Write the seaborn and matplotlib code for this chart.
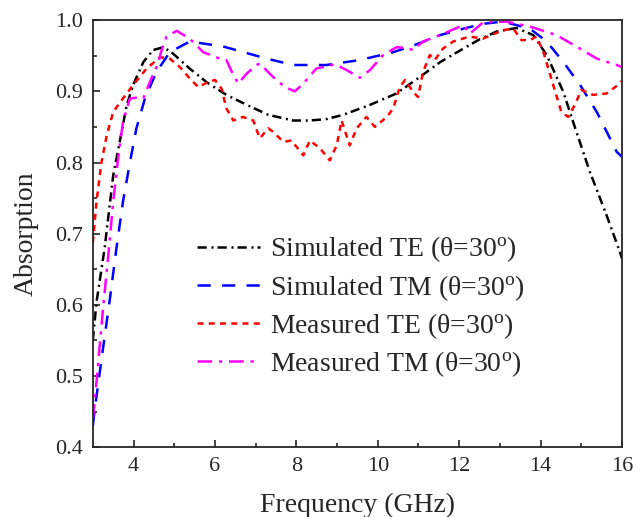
import matplotlib
matplotlib.use("Agg")
import matplotlib.pyplot as plt
import seaborn as sns
import pandas as pd

# ---------------- data ----------------
sim_te_f = [3.0, 3.09, 3.29, 3.5, 3.66, 3.83, 3.99, 4.24, 4.48, 4.73, 4.93, 5.38, 5.79, 6.28,
            6.78, 7.31, 7.92, 8.33, 8.74, 9.15, 9.81, 10.46, 11.03, 11.53, 12.1, 12.5, 12.92,
            13.41, 13.82, 14.15, 14.56, 14.88, 15.21, 15.62, 15.95, 16.0]
sim_te_a = [0.55, 0.604, 0.68, 0.782, 0.829, 0.88, 0.909, 0.941, 0.958, 0.962, 0.955, 0.932, 0.913,
            0.895, 0.881, 0.867, 0.859, 0.859, 0.861, 0.867, 0.881, 0.897, 0.920, 0.941, 0.960, 0.973,
            0.984, 0.989, 0.979, 0.951, 0.899, 0.843, 0.787, 0.726, 0.674, 0.665]

sim_tm_f = [3.0, 3.05, 3.25, 3.42, 3.58, 3.74, 3.91, 4.07, 4.28, 4.56, 4.89, 5.38, 6.2, 7.27,
            7.92, 8.74, 9.56, 10.38, 11.0, 11.53, 12.1, 12.6, 13.08, 13.74, 14.15, 14.56, 14.97,
            15.38, 15.87, 16.0]
sim_tm_a = [0.43, 0.455, 0.539, 0.609, 0.68, 0.745, 0.80, 0.848, 0.89, 0.927, 0.955, 0.97, 0.963,
            0.946, 0.937, 0.937, 0.944, 0.955, 0.967, 0.979, 0.988, 0.995, 0.998, 0.988, 0.97,
            0.941, 0.909, 0.871, 0.815, 0.808]

mea_te_f = [3.0, 3.09, 3.21, 3.34, 3.5, 3.74, 3.99, 4.32, 4.65, 4.89, 5.14, 5.38, 5.59, 5.83, 6.0,
            6.16, 6.28, 6.45, 6.69, 6.94, 7.1, 7.31, 7.43, 7.68, 7.88, 8.17, 8.33, 8.58, 8.82, 8.99,
            9.11, 9.23, 9.31, 9.48, 9.72, 9.93, 10.22, 10.38, 10.54, 10.67, 10.87, 10.99, 11.11,
            11.28, 11.4, 11.6, 11.85, 12.26, 12.58, 13.08, 13.33, 13.53, 13.74, 13.9, 14.07, 14.31,
            14.51, 14.68, 14.84, 15.0, 15.29, 15.62, 15.95, 16.0]
mea_te_a = [0.688, 0.745, 0.80, 0.838, 0.871, 0.89, 0.909, 0.932, 0.948, 0.946, 0.934, 0.918, 0.906,
            0.913, 0.916, 0.904, 0.876, 0.859, 0.864, 0.859, 0.834, 0.848, 0.843, 0.829, 0.831,
            0.81, 0.831, 0.82, 0.803, 0.824, 0.859, 0.838, 0.824, 0.848, 0.864, 0.85, 0.864, 0.876,
            0.906, 0.916, 0.899, 0.892, 0.927, 0.951, 0.944, 0.96, 0.97, 0.977, 0.974, 0.986, 0.988,
            0.972, 0.972, 0.977, 0.955, 0.909, 0.871, 0.864, 0.881, 0.902, 0.895, 0.897, 0.911, 0.915]

mea_tm_f = [3.0, 3.09, 3.25, 3.38, 3.5, 3.62, 3.74, 3.91, 4.07, 4.24, 4.4, 4.6, 4.69, 4.81, 5.06,
            5.38, 5.71, 6.12, 6.28, 6.45, 6.57, 6.78, 7.02, 7.1, 7.43, 7.72, 7.96, 8.17, 8.49, 8.95,
            9.23, 9.56, 9.81, 10.13, 10.46, 10.7, 10.87, 11.11, 11.53, 12.1, 12.26, 12.59, 13.16,
            13.74, 14.39, 14.88, 15.38, 15.87, 16.0]
mea_tm_a = [0.44, 0.492, 0.595, 0.67, 0.745, 0.806, 0.857, 0.89, 0.891, 0.89, 0.913, 0.939, 0.958,
            0.977, 0.985, 0.974, 0.955, 0.946, 0.944, 0.923, 0.911, 0.925, 0.937, 0.939, 0.92,
            0.906, 0.90, 0.911, 0.932, 0.938, 0.93, 0.919, 0.93, 0.951, 0.962, 0.961, 0.958, 0.97,
            0.979, 0.993, 0.981, 0.997, 0.998, 0.991, 0.979, 0.963, 0.946, 0.937, 0.934]

labels = ["Simulated TE ($\\theta$=30$^{\\mathrm{o}}$)",
          "Simulated TM ($\\theta$=30$^{\\mathrm{o}}$)",
          "Measured TE ($\\theta$=30$^{\\mathrm{o}}$)",
          "Measured TM ($\\theta$=30$^{\\mathrm{o}}$)"]
colors = ["black", "#0000ff", "#ff0000", "#ff00ff"]
x_ticks = [4, 6, 8, 10, 12, 14, 16]
y_ticks = [0.4, 0.5, 0.6, 0.7, 0.8, 0.9, 1.0]

# ---------------- style ----------------
sns.set_style("ticks")
plt.rcParams["font.family"] = ["Liberation Serif", "DejaVu Serif"]
plt.rcParams["mathtext.fontset"] = "custom"
plt.rcParams["mathtext.rm"] = "Liberation Serif"
plt.rcParams["mathtext.it"] = "Liberation Serif"
plt.rcParams["mathtext.default"] = "regular"

fig = plt.figure(figsize=(6.36, 5.17), dpi=100)
ax = fig.add_axes([0.146, 0.135, 0.832, 0.826])

lw = 1.8
dashes = [(0, (3.7, 1.9, 0.8, 1.6)),
          (0, (5.3, 4.5)),
          (0, (2.4, 2.1)),
          (0, (5.9, 2.7, 1.3, 2.7))]

series = [(sim_te_f, sim_te_a), (sim_tm_f, sim_tm_a), (mea_te_f, mea_te_a), (mea_tm_f, mea_tm_a)]
for (f, a), lab, c, d in zip(series, labels, colors, dashes):
    df = pd.DataFrame({"f": f, "a": a})
    sns.lineplot(data=df, x="f", y="a", ax=ax, color=c, linewidth=lw, linestyle=d,
                 label=lab, estimator=None, sort=False)

ax.set_xlim(3, 16)
ax.set_ylim(0.4, 1.0)
ax.set_xticks(x_ticks)
ax.set_yticks(y_ticks)
ax.set_yticklabels([f"{v:.1f}" for v in y_ticks])
ax.set_xticks([5, 7, 9, 11, 13, 15], minor=True)
ax.set_yticks([0.45, 0.55, 0.65, 0.75, 0.85, 0.95], minor=True)
ax.tick_params(axis="both", which="major", direction="in", length=5, width=1.2,
               labelsize=16, pad=7, top=False, right=False)
ax.tick_params(axis="both", which="minor", direction="in", length=3, width=1.2,
               top=False, right=False)
for s in ax.spines.values():
    s.set_linewidth(1.3)
    s.set_visible(True)

ax.set_xlabel("Frequency (GHz)", fontsize=20, labelpad=12)
ax.set_ylabel("Absorption", fontsize=20, labelpad=12)

ax.legend(loc="center left", bbox_to_anchor=(0.176, 0.329), frameon=False, fontsize=20,
          handlelength=2.27, handletextpad=0.36, labelspacing=0.3, borderaxespad=0)

fig.savefig("out.png", dpi=100)
